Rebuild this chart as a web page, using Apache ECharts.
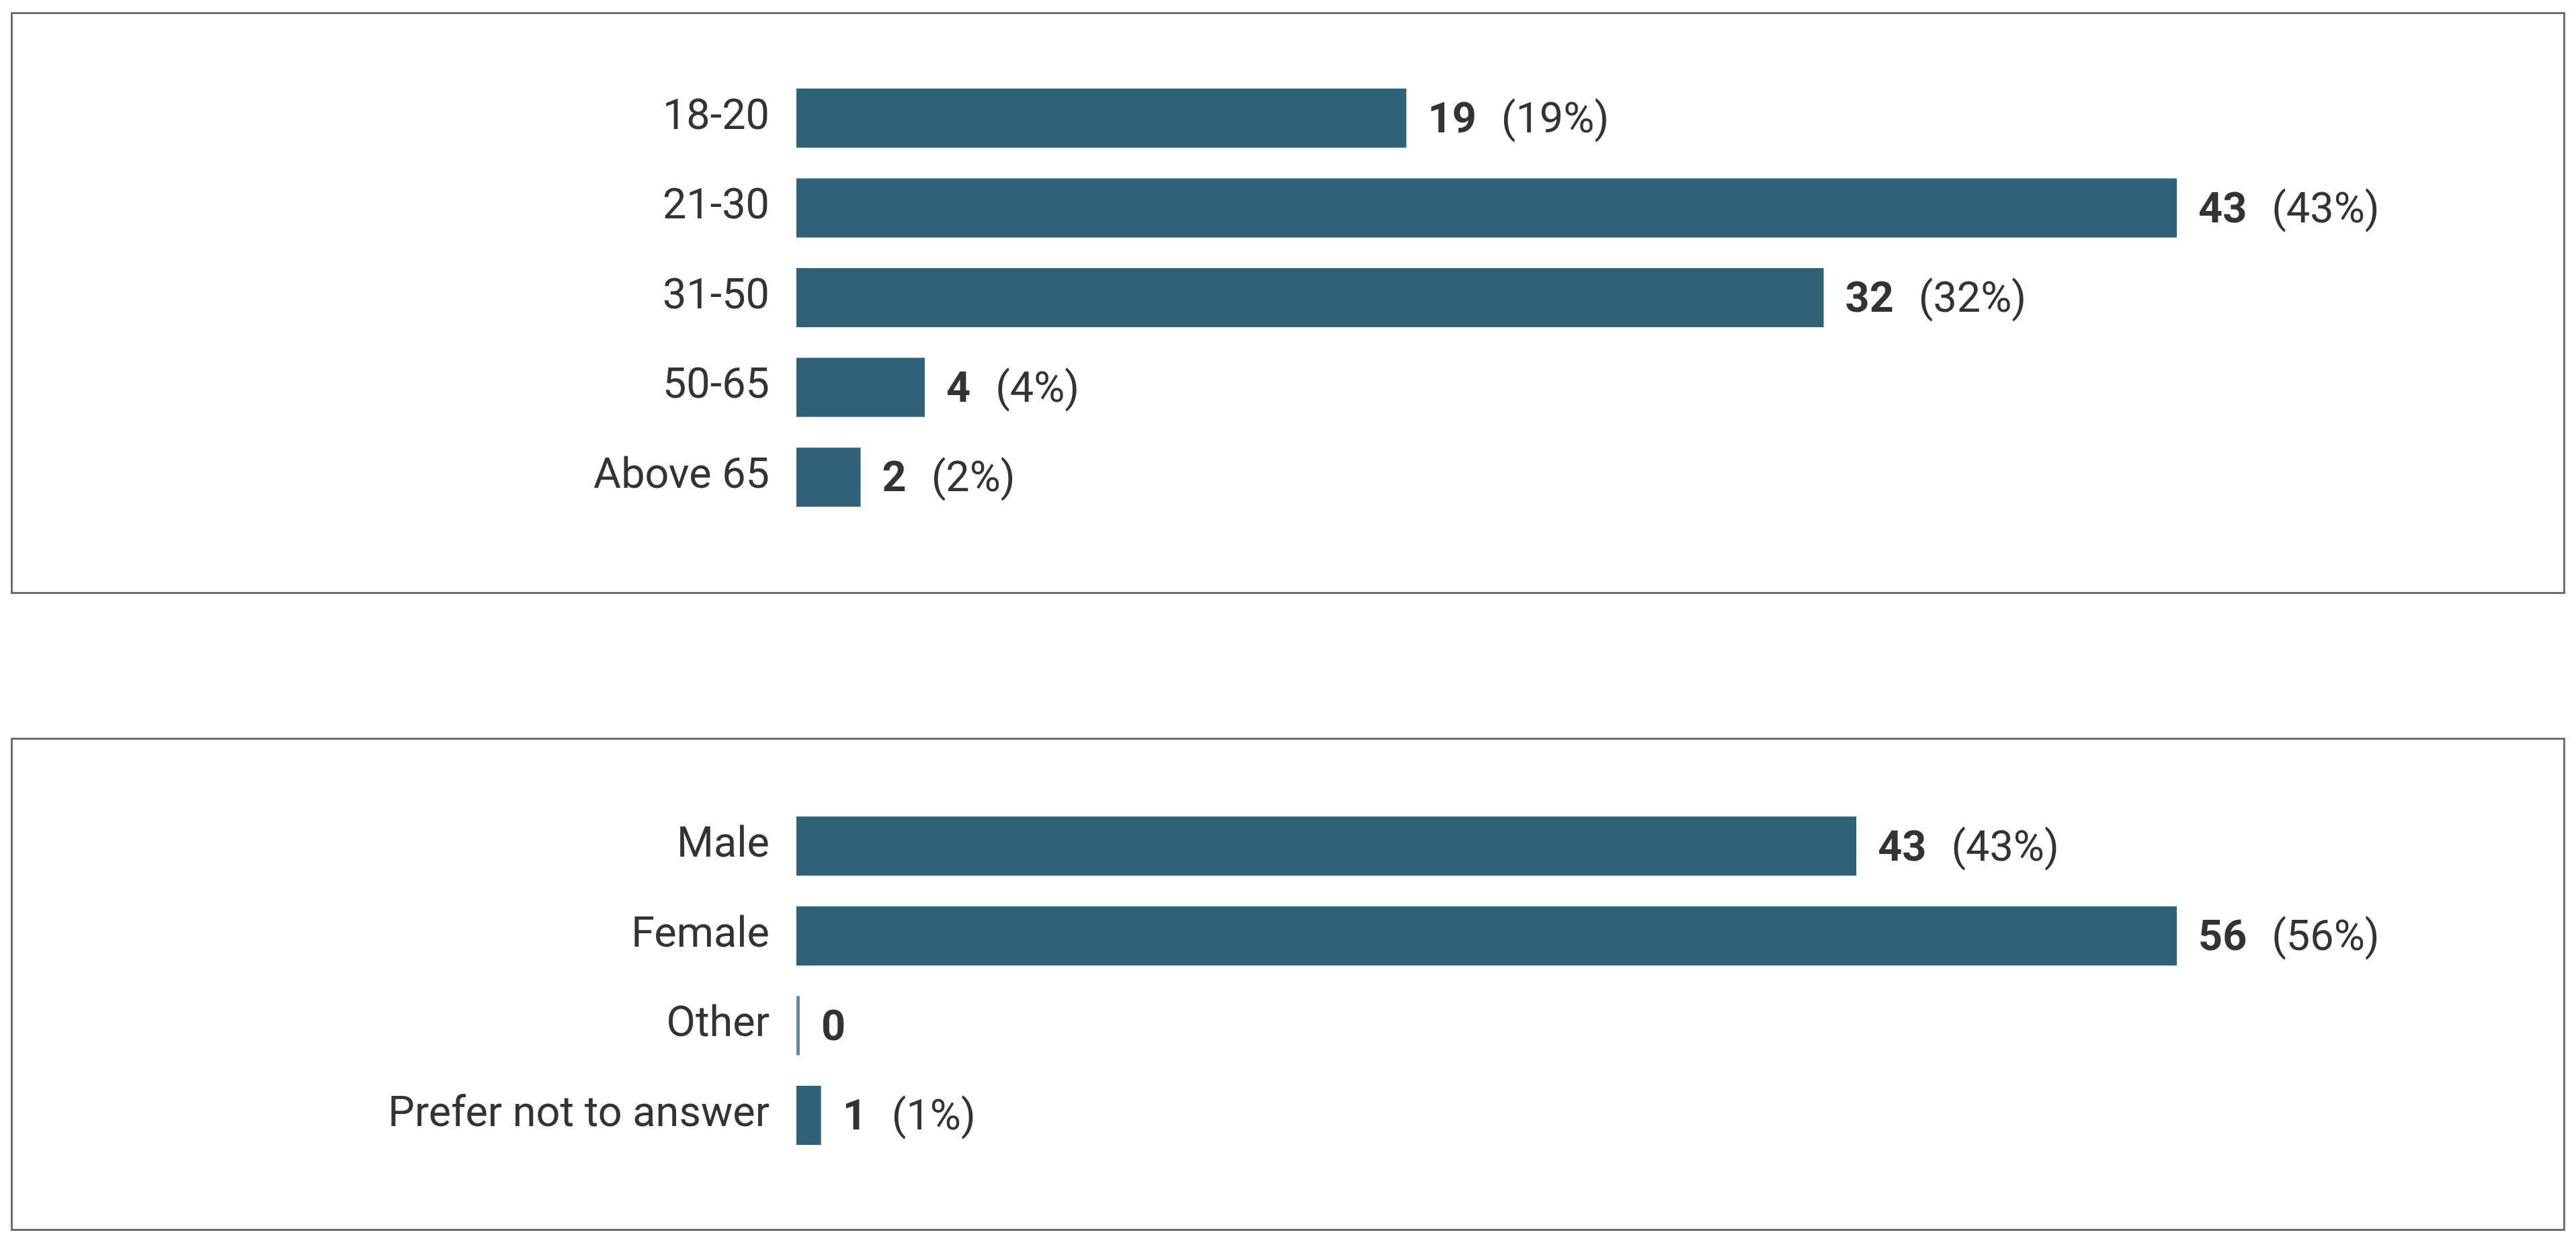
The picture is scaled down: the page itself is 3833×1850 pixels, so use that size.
<!DOCTYPE html>
<html>
<head>
<meta charset="utf-8">
<script src="https://cdn.jsdelivr.net/npm/echarts@6/dist/echarts.min.js"></script>
<style>
html,body{margin:0;padding:0;background:#fff;}
#c{width:3833px;height:1850px;}
</style>
</head>
<body>
<div id="c"></div>
<script>
var ageCategories = ['18-20', '21-30', '31-50', '50-65', 'Above 65'];
var ageValues = [19, 43, 32, 4, 2];
var agePercents = ['19%', '43%', '32%', '4%', '2%'];

var genderCategories = ['Male', 'Female', 'Other', 'Prefer not to answer'];
var genderValues = [43, 56, 0, 1];
var genderPercents = ['43%', '56%', '', '1%'];

var BAR = '#2f6279';
var TEXT = '#333333';
var FONT = 'Roboto';
var FS = 63;

function labelFormatter(percents) {
  return function (p) {
    var pc = percents[p.dataIndex];
    if (p.value === 0 || !pc) return '{b|' + p.value + '}';
    return '{b|' + p.value + '}{p|(' + pc + ')}';
  };
}

function makeData(values) {
  return values.map(function (v) {
    if (v === 0) return { value: v, itemStyle: { color: '#5e8ca2' } };
    return v;
  });
}

var chart = echarts.init(document.getElementById('c'), null, { renderer: 'canvas' });

var labelRich = {
  b: { fontFamily: FONT, fontSize: FS, fontWeight: 'bold', color: TEXT },
  p: { fontFamily: FONT, fontSize: FS, color: TEXT, padding: [0, 0, 0, 37] }
};

function catAxis(grid, cats) {
  return {
    gridIndex: grid, type: 'category', data: cats, inverse: true,
    axisLine: { show: false }, axisTick: { show: false }, splitLine: { show: false },
    axisLabel: { fontFamily: FONT, fontSize: FS, color: TEXT, margin: 40, padding: [11, 0, 0, 0] }
  };
}

var option = {
  animation: false,
  backgroundColor: '#ffffff',
  textStyle: { fontFamily: FONT },
  graphic: [
    { type: 'rect', shape: { x: 17.5, y: 19.5, width: 3798, height: 863 },
      style: { fill: 'none', stroke: '#6e6e6e', lineWidth: 3 } },
    { type: 'rect', shape: { x: 17.5, y: 1099.5, width: 3798, height: 731 },
      style: { fill: 'none', stroke: '#6e6e6e', lineWidth: 3 } }
  ],
  grid: [
    { left: 1185, right: 594, top: 109, height: 668, containLabel: false },
    { left: 1185, right: 594, top: 1192.5, height: 534.4, containLabel: false }
  ],
  xAxis: [
    { gridIndex: 0, type: 'value', min: 0, max: function (v) { return v.max; }, show: false },
    { gridIndex: 1, type: 'value', min: 0, max: function (v) { return v.max; }, show: false }
  ],
  yAxis: [catAxis(0, ageCategories), catAxis(1, genderCategories)],
  series: [
    { type: 'bar', xAxisIndex: 0, yAxisIndex: 0, data: makeData(ageValues),
      barWidth: 88, itemStyle: { color: BAR },
      label: { show: true, position: 'right', distance: 32, padding: [11, 0, 0, 0],
        formatter: labelFormatter(agePercents), rich: labelRich } },
    { type: 'bar', xAxisIndex: 1, yAxisIndex: 1, data: makeData(genderValues),
      barWidth: 88, barMinHeight: 5, itemStyle: { color: BAR },
      label: { show: true, position: 'right', distance: 32, padding: [11, 0, 0, 0],
        formatter: labelFormatter(genderPercents), rich: labelRich } }
  ]
};
chart.setOption(option);
</script>
</body>
</html>
